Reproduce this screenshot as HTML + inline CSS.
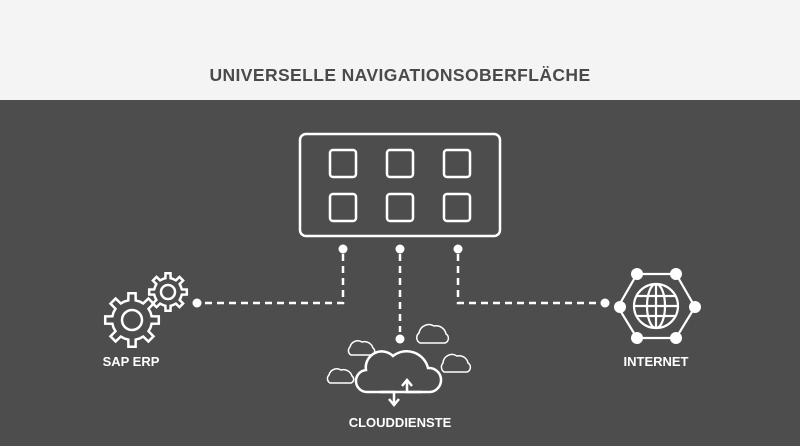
<!DOCTYPE html>
<html><head><style>
html,body{margin:0;padding:0;width:800px;height:446px;overflow:hidden;background:#4d4d4d;font-family:"Liberation Sans",sans-serif}
</style></head><body>
<svg width="800" height="446" viewBox="0 0 800 446" xmlns="http://www.w3.org/2000/svg">
<rect x="0" y="0" width="800" height="100" fill="#f4f4f4"/>
<rect x="0" y="100" width="800" height="346" fill="#4d4d4d"/>
<text x="400" y="81" text-anchor="middle" font-family="Liberation Sans" font-weight="bold" font-size="17.5" fill="#4a4a4a" letter-spacing="0.4">UNIVERSELLE NAVIGATIONSOBERFLÄCHE</text>
<g fill="none" stroke="#fff" stroke-width="2.5">
<rect x="300" y="134" width="200" height="102" rx="6"/>
<rect x="330" y="150" width="26" height="27" rx="3"/>
<rect x="387" y="150" width="26" height="27" rx="3"/>
<rect x="444" y="150" width="26" height="27" rx="3"/>
<rect x="330" y="194" width="26" height="27" rx="3"/>
<rect x="387" y="194" width="26" height="27" rx="3"/>
<rect x="444" y="194" width="26" height="27" rx="3"/>
</g>
<g fill="none" stroke="#fff" stroke-width="2.5" stroke-dasharray="7,5">
<path d="M343 254 V303 H204"/>
<path d="M400 254 V332"/>
<path d="M458 254 V303 H600"/>
</g>
<g fill="#fff">
<circle cx="343" cy="249" r="4.5"/><circle cx="400" cy="249" r="4.5"/><circle cx="458" cy="249" r="4.5"/>
<circle cx="197" cy="303" r="4.5"/><circle cx="400" cy="339" r="4.5"/><circle cx="605" cy="303" r="4.5"/>
</g>
<g id="gears" fill="none" stroke="#fff" stroke-width="2.5"></g>
<g fill="none" stroke="#fff">
<path d="M368 392 A11 11 0 0 1 366 370 A16 16 0 0 1 393 356 A22 22 0 0 1 428 368 A12 12 0 0 1 430 392 Z" stroke-width="2.5"/>
<g stroke-width="1.5">
<path d="M330 383 A5 5 0 0 1 329 375 A8 8 0 0 1 341 370 A9 9 0 0 1 352 376 A4 4 0 0 1 351 383 Z"/>
<path d="M351 355 A5 5 0 0 1 350 347 A8 8 0 0 1 362 342 A9 9 0 0 1 373 348 A4 4 0 0 1 372 355 Z"/>
<path d="M420 343 A6 6 0 0 1 419 333 A10 10 0 0 1 434 326 A10 10 0 0 1 446 334 A5 5 0 0 1 445 343 Z"/>
<path d="M444 372 A6 6 0 0 1 443 363 A9 9 0 0 1 457 356 A9 9 0 0 1 468 363 A5 5 0 0 1 467 372 Z"/>
</g>
<g stroke-width="2.5">
<path d="M380 392 H394 V404"/><path d="M389 399 L394 405 L399 399"/>
<path d="M422 392 H407 V381"/><path d="M402 386 L407 380 L412 386"/>
</g>
</g>
<g stroke="#fff" stroke-width="2.2" fill="none">
<polygon points="637,274 676,274 695,307 676,338 637,338 618,307"/>
<circle cx="656" cy="306" r="22" fill="#4d4d4d"/>
<ellipse cx="656" cy="306" rx="9" ry="22"/>
<line x1="656" y1="284" x2="656" y2="328"/>
<line x1="634" y1="306" x2="678" y2="306"/>
<line x1="637" y1="296" x2="675" y2="296"/>
<line x1="637" y1="316" x2="675" y2="316"/>
</g>
<g fill="#fff">
<circle cx="637" cy="274" r="6"/><circle cx="676" cy="274" r="6"/><circle cx="695" cy="307" r="6"/>
<circle cx="676" cy="338" r="6"/><circle cx="637" cy="338" r="6"/><circle cx="620" cy="307" r="6"/>
</g>
<g font-family="Liberation Sans" font-weight="bold" font-size="13" fill="#fff" text-anchor="middle">
<text x="131" y="366">SAP ERP</text>
<text x="400" y="427">CLOUDDIENSTE</text>
<text x="656" y="366">INTERNET</text>
</g>
</svg>
<script>
function gear(cx,cy,ro,ri,n,hole){
 let d="";const step=Math.PI*2/n;
 for(let i=0;i<n;i++){const a=i*step;
  const pts=[[ri,a-step*0.5],[ri,a-step*0.24],[ro,a-step*0.17],[ro,a+step*0.17],[ri,a+step*0.24]];
  pts.forEach((p,j)=>{const x=cx+p[0]*Math.cos(p[1]),y=cy+p[0]*Math.sin(p[1]);d+=(i==0&&j==0?"M":"L")+x.toFixed(1)+" "+y.toFixed(1)+" ";});
 }
 d+="Z";
 const g=document.getElementById("gears");
 const p=document.createElementNS("http://www.w3.org/2000/svg","path");p.setAttribute("d",d);g.appendChild(p);
 const c=document.createElementNS("http://www.w3.org/2000/svg","circle");c.setAttribute("cx",cx);c.setAttribute("cy",cy);c.setAttribute("r",hole);g.appendChild(c);
}
gear(132,320,27,20,8,10);
gear(168,292,19,14,8,7);
</script>
</body></html>
